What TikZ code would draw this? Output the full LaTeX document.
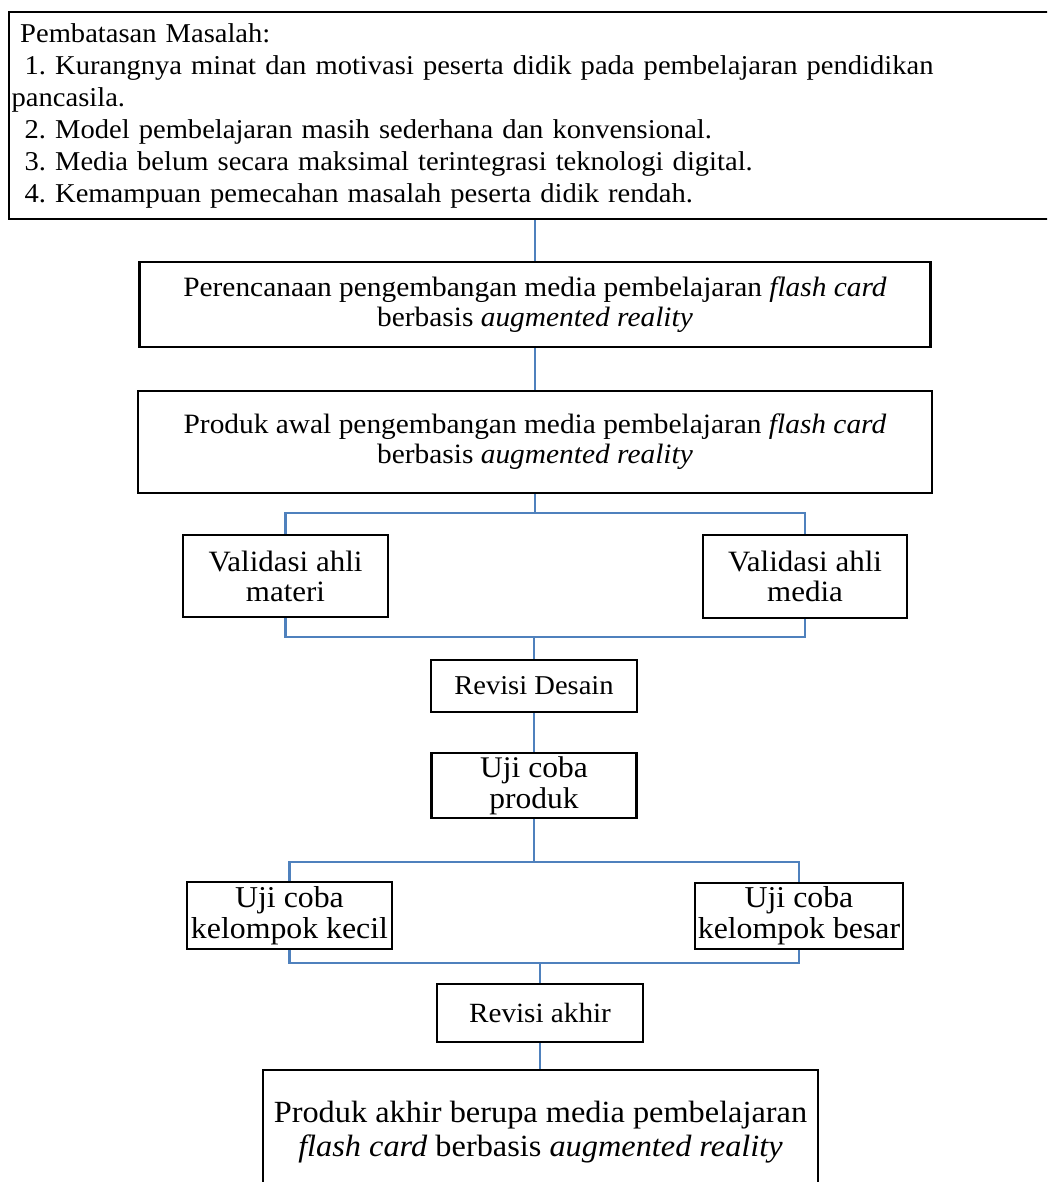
\documentclass[tikz,border=0pt]{standalone}
\usepackage{fontspec}
\setmainfont{Liberation Serif}[FakeStretch=1.05]
\usetikzlibrary{backgrounds}
\definecolor{linkblue}{RGB}{79,129,189}
\frenchspacing
\begin{document}
\begin{tikzpicture}[x=1pt,y=-1pt,
  box/.style={draw=black, line width=2.4pt, inner sep=0pt, align=center},
  conn/.style={draw=linkblue, line width=2.6pt}]
\useasboundingbox (0,0) rectangle (1047,1182);
\clip (0,0) rectangle (1047,1182);
% top box
\node[box, minimum width=1052, minimum height=207, anchor=north west] (masalah) at (8,11) {};
\node[anchor=base west, inner sep=0pt, text width=1020, align=left,
      font=\fontsize{27.2}{32}\selectfont] (masalahtext) at (11.5,43)
  {\hspace*{8.5pt}Pembatasan Masalah:\\
   \hspace*{13pt}1. Kurangnya minat dan motivasi peserta didik pada pembelajaran pendidikan\\
   pancasila.\\
   \hspace*{13pt}2. Model pembelajaran masih sederhana dan konvensional.\\
   \hspace*{13pt}3. Media belum secara maksimal terintegrasi teknologi digital.\\
   \hspace*{13pt}4. Kemampuan pemecahan masalah peserta didik rendah.};
% chain
\node[box, minimum width=791, minimum height=85, font=\fontsize{28}{30}\selectfont] (rencana) at (535,304.5)
  {\rule{0pt}{4pt}Perencanaan pengembangan media pembelajaran \textit{flash card}\\berbasis \textit{augmented reality}};
\node[box, minimum width=794, minimum height=102, font=\fontsize{28}{30}\selectfont] (awal) at (535,442)
  {\rule{0pt}{4pt}Produk awal pengembangan media pembelajaran \textit{flash card}\\berbasis \textit{augmented reality}};
\node[box, minimum width=205, minimum height=82, font=\fontsize{29.5}{30}\selectfont] (materi) at (285.5,576)
  {Validasi ahli\\materi};
\node[box, minimum width=204, minimum height=83, font=\fontsize{29.5}{30}\selectfont] (media) at (805,576.5)
  {Validasi ahli\\media};
\node[box, minimum width=206, minimum height=52, font=\fontsize{27.2}{30}\selectfont] (revdesain) at (534,686)
  {Revisi Desain};
\node[box, minimum width=205, minimum height=65, font=\fontsize{30}{31}\selectfont] (ujiproduk) at (534,785.5)
  {\rule{0pt}{4pt}Uji coba\\produk};
\node[box, minimum width=205, minimum height=67, font=\fontsize{30.3}{31}\selectfont] (kecil) at (289.5,915.5)
  {Uji coba\\kelompok kecil};
\node[box, minimum width=208, minimum height=66, font=\fontsize{30.3}{31}\selectfont] (besar) at (799,916)
  {Uji coba\\kelompok besar};
\node[box, minimum width=206, minimum height=58, font=\fontsize{27.8}{30}\selectfont] (revakhir) at (540,1013)
  {Revisi akhir};
\node[box, minimum width=555, minimum height=124, font=\fontsize{30.8}{34}\selectfont] (akhir) at (540.5,1132)
  {Produk akhir berupa media pembelajaran\\\textit{flash card} berbasis \textit{augmented reality}};
% connectors
\begin{scope}[on background layer]
\coordinate (j1) at (535,513);
\coordinate (j2) at (534,637);
\coordinate (j3) at (534,862);
\coordinate (j4) at (540,963);
\draw[conn] (rencana.north |- masalah.south) -- (rencana.north);
\draw[conn] (rencana.south) -- (awal.north);
\draw[conn] (awal.south) -- (j1);
\draw[conn] (materi.north) |- (j1) -| (media.north);
\draw[conn] (materi.south) |- (j2) -| (media.south);
\draw[conn] (j2) -- (revdesain.north);
\draw[conn] (revdesain.south) -- (ujiproduk.north);
\draw[conn] (ujiproduk.south) -- (j3);
\draw[conn] (kecil.north) |- (j3) -| (besar.north);
\draw[conn] (kecil.south) |- (j4) -| (besar.south);
\draw[conn] (j4) -- (revakhir.north);
\draw[conn] (revakhir.south) -- (akhir.north -| revakhir.south);
\end{scope}
\end{tikzpicture}
\end{document}
